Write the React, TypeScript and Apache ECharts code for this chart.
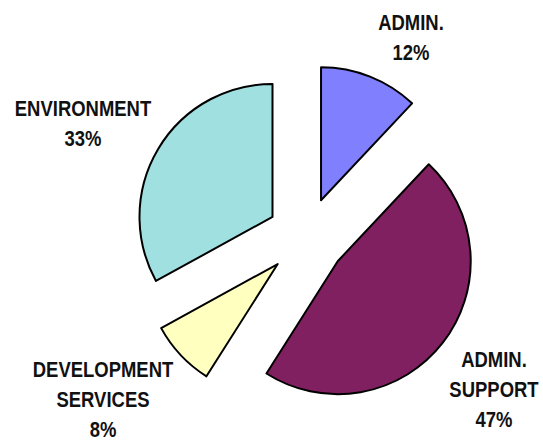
import React, { useEffect, useRef } from "react";
import * as echarts from "echarts";

// Budget share by department (percent)
const departments = ["ADMIN.", "ADMIN.\nSUPPORT", "DEVELOPMENT\nSERVICES", "ENVIRONMENT"];
const shares = [12, 47, 8, 33];
const sliceColors = ["#8080FF", "#802060", "#FFFFC0", "#A0E0E0"];

// Label block centres, keyed by slice index
const labelAnchors: [number, number][] = [
  [411, 37],
  [494, 389],
  [103, 399],
  [83, 123],
];

const FONT = "'Liberation Sans', Arial, sans-serif";

export default function App() {
  const ref = useRef<HTMLDivElement>(null);

  useEffect(() => {
    document.body.style.margin = "0";
    if (!ref.current) return;
    const chart = echarts.init(ref.current, undefined, { renderer: "svg" });

    // Narrow-set label text, one block per slice
    const labels = departments.map((name, i) => ({
      type: "text",
      x: labelAnchors[i][0],
      y: labelAnchors[i][1],
      scaleX: 0.84,
      silent: true,
      style: {
        text: `${name}\n${shares[i]}%`,
        fill: "#111111",
        font: `bold 22px ${FONT}`,
        lineHeight: 30,
        align: "center",
        verticalAlign: "middle",
      },
    }));

    chart.setOption({
      animation: false,
      backgroundColor: "#FFFFFF",
      graphic: labels,
      series: [
        {
          type: "pie",
          center: [306.5, 237],
          radius: 133,
          startAngle: 90,
          clockwise: true,
          selectedMode: "multiple",
          selectedOffset: 39.5,
          emphasis: { disabled: true },
          itemStyle: { borderColor: "#000000", borderWidth: 2 },
          select: { itemStyle: { borderColor: "#000000", borderWidth: 2 } },
          label: { show: false },
          labelLine: { show: false },
          data: departments.map((name, i) => ({
            name,
            value: shares[i],
            selected: true,
            itemStyle: { color: sliceColors[i] },
          })),
        },
      ],
    });
    return () => chart.dispose();
  }, []);

  return <div ref={ref} style={{ width: 543, height: 440 }} />;
}
